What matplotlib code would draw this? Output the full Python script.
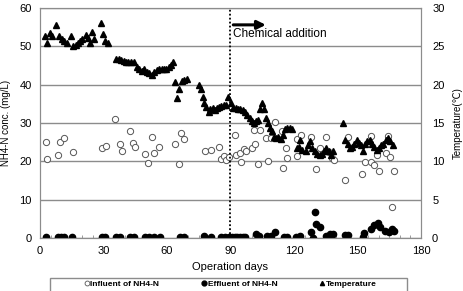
import matplotlib
matplotlib.use("Agg")
import matplotlib.pyplot as plt
from matplotlib.lines import Line2D
from matplotlib.patches import Rectangle

plt.rcParams['font.family'] = ['Liberation Sans', 'DejaVu Sans']

# temperature (right axis, degC)
temp_day = [2.4, 3.5, 4.7, 5.8, 7.6, 9, 10.3, 11.5, 12.6, 14.5, 15.8, 16.9, 17.8, 19, 20, 21.6, 22.6,
            23.7, 24.8, 25.7, 28.8, 29.7, 30.8, 32,
            36, 37.1, 38.4, 39.5, 40.7, 41.8, 43, 44.2, 45.8, 47, 48.2, 49.3, 50.5, 51.6, 52.7, 54,
            55.3, 56.4, 57.5, 58.4, 59.7, 60.8, 61.9, 62.8,
            64, 64.7, 65.5, 67.1, 68.2, 69.5, 75, 76.1, 76.9, 77.7, 78.6, 79.7, 80.5, 81.6, 82.6,
            83.7, 84.8, 85.7, 86.8, 88, 88.9, 90, 91.3, 92.4, 93.5, 94.7, 95.8, 96.8, 97.9, 99, 100,
            101, 102.2, 103.1, 103.9, 104.7, 105.8, 106.9, 107.9, 108.6, 109.4, 110.5, 111.6, 112.6,
            113.7, 114.8, 115.7, 116.8, 117.9, 118.9, 121.3, 122.4,
            122.8, 124, 125.5, 126.6, 127.6, 128.7, 129.8, 131, 132.2, 133.1, 134.2, 135.3, 136.3,
            137.4, 138.5, 143.2, 144.2, 145.3, 146.4, 147.3, 148.4, 149.6, 150.5, 151.6, 152.4,
            153.5, 154.7, 155.8, 156.8, 157.9, 159, 160, 161.1, 162.1, 163.4, 164.5, 165.5, 166.6]
temp_val = [26.3, 25.5, 26.7, 26.3, 27.8, 26.3, 25.9, 25.7, 25.5, 26.3, 25.1, 25.2, 25.4, 25.7, 25.9,
            26.5, 26.1, 25.4, 26.9, 25.9, 28.1, 26.6, 25.7, 25.5,
            23.3, 23.4, 23.2, 23.1, 23.0, 22.9, 22.9, 23.0, 22.3, 22.0, 21.8, 22.0, 21.6, 21.5, 21.3,
            21.7, 21.9, 22.0, 22.0, 22.0, 22.0, 22.3, 22.6, 23.0,
            20.3, 18.3, 19.4, 20.5, 20.6, 20.8, 20.0, 19.5, 18.4, 17.6, 17.1, 16.5, 16.8, 16.9, 16.7,
            17.0, 17.1, 17.2, 17.3, 17.3, 18.4, 17.6, 16.9, 16.9, 16.8, 16.8, 16.7, 16.4, 16.0, 15.6,
            15.2, 15.0, 15.3, 15.4, 16.8, 17.6, 16.8, 15.6, 15.0, 14.4, 13.9, 13.2, 13.0, 13.2,
            12.9, 13.4, 14.2, 14.3, 14.3, 14.2, 11.7, 11.9,
            12.8, 11.5, 11.3, 12.1, 12.6, 11.7, 11.3, 11.0, 10.8, 11.0, 11.3, 11.7, 11.3,
            10.8, 11.3, 15.0, 12.8, 12.3, 11.7, 11.9, 12.3, 12.8, 12.4, 12.1, 11.3,
            12.3, 12.6, 12.8, 12.3, 11.9, 11.5, 11.7, 12.1, 12.3, 12.8, 13.0, 12.6, 12.1]

# influent NH4-N (left axis, mg/L)
inf_day = [2.7, 3.2, 8.7, 9.5, 11.5, 15.5, 29.2, 31.3, 35.5, 37.6, 38.7, 42.6, 43.9, 45, 49.4, 50.8,
           52.9, 53.7, 56.4, 64, 65.8, 66.8, 67.9, 77.8, 81, 84.8, 85.7, 86.8, 88, 89.2, 92, 92.7,
           94.7, 95, 96.3, 97.1, 100, 101, 101.8, 103.1, 103.9, 106.9, 107.9, 108.9, 111, 114.2, 115,
           116, 116.9, 121.3, 121.6, 123.2, 128.2, 130.3, 132.2, 135, 136.6, 137.8, 138.9, 144.2,
           145.3, 152, 153.5, 156.3, 156.6, 157.9, 159.2, 160.3, 163.4, 164.5, 165.5, 166.3, 167.4]
inf_val = [25.1, 20.6, 21.7, 25.1, 26.2, 22.4, 23.4, 24.0, 31.0, 24.4, 22.7, 28.0, 24.7, 23.8, 21.8, 19.6,
           26.4, 22.3, 23.8, 24.4, 19.3, 27.5, 25.9, 22.7, 23.0, 23.8, 20.5, 21.4, 20.3, 21.1, 26.9, 21.7,
           22.1, 19.8, 23.1, 22.8, 23.4, 28.2, 24.4, 19.3, 28.2, 26.0, 20.2, 26.0, 30.3, 28.0, 18.2,
           23.4, 21.0, 21.4, 25.7, 26.9, 26.4, 17.9, 23.4, 26.3, 22.5, 20.8, 20.3, 15.1,
           26.4, 16.6, 19.9, 26.6, 19.7, 19.0, 21.7, 17.6, 22.1, 26.6, 21.2, 8.2, 17.6]

# effluent NH4-N (left axis, mg/L)
eff_day = [2.8, 8.7, 10, 11.4, 15.3, 29.2, 30.8, 36, 37.9, 42.3, 44.2, 49.4, 51.3, 53.7, 56.8, 66.3,
           67.9, 77.4, 80.8, 85.3, 87.3, 89.2, 90.8, 92, 93.2, 94.5, 95.8, 97, 102.2, 103.4, 107.4, 109,
           110.8, 115.3, 116.8, 120.8, 122.7, 127.9, 129.2, 129.9, 130.6, 132.3, 135, 137, 138.5,
           144.2, 145.3, 152.4, 153.2, 156.3, 157.9, 159.5, 160.6, 163.1, 164.7, 166.3, 167.4]
eff_val = [0.3, 0.3, 0.3, 0.3, 0.3, 0.3, 0.3, 0.3, 0.3, 0.2, 0.2, 0.3, 0.3, 0.3, 0.2, 0.3,
           0.3, 0.4, 0.3, 0.3, 0.3, 0.2, 0.2, 0.2, 0.2, 0.2, 0.3, 0.3, 1.0, 0.4, 0.4, 0.4,
           1.6, 0.3, 0.3, 0.3, 0.4, 1.6, 0.0, 6.9, 3.7, 3.0, 0.5, 1.0, 1.0,
           0.8, 0.8, 0.3, 1.4, 2.3, 3.4, 3.8, 3.0, 1.9, 1.6, 2.3, 1.9]

grey = '#8c8c8c'
fig = plt.figure(figsize=(4.63, 2.91), dpi=100)
ax = fig.add_axes([40 / 463, 1 - 238 / 291, 381 / 463, 230 / 291])
ax2 = ax.twinx()

ax.plot(inf_day, inf_val, 'o', mfc='white', mec='#555555', mew=0.7, ms=4.5, zorder=3)
ax.plot(eff_day, eff_val, 'o', color='black', ms=4.5, zorder=3)
ax2.plot(temp_day, temp_val, '^', color='black', ms=3.8, zorder=3)

ax.set_xlim(0, 180)
ax.set_ylim(0, 60)
ax2.set_ylim(0, 30)
ax.set_xticks(range(0, 181, 30))
ax.set_xticks(range(0, 181, 5), minor=True)
ax.set_yticks(range(0, 61, 10))
ax2.set_yticks(range(0, 31, 5))
ax.yaxis.grid(True, color=grey, lw=1)
ax.set_axisbelow(True)

ax.tick_params(axis='both', which='major', length=0, labelsize=8, pad=6)
ax.tick_params(axis='x', which='minor', length=2, direction='in', color=grey)
ax2.tick_params(axis='y', length=0, labelsize=8, pad=8)
for a in (ax, ax2):
    for s in a.spines.values():
        s.set_color(grey)

ax.set_xlabel('Operation days', fontsize=8, labelpad=4)
ax.set_ylabel('NH4-N conc. (mg/L)', fontsize=7, labelpad=6)
ax2.set_ylabel('Temperature(℃)', fontsize=7, labelpad=6)

ax.axvline(90, color='black', ls=(0, (1, 1.2)), lw=1.3, zorder=4)
ax.annotate('', xy=(108, 55.6), xytext=(90, 55.6),
            arrowprops=dict(arrowstyle='-|>,head_length=0.5,head_width=0.25', color='black', lw=2.2))
ax.text(91, 53.3, 'Chemical addition', fontsize=8.5, va='center', ha='left')

fig.patches.append(Rectangle((50 / 463, -0.05), 357 / 463, 0.05 + 1 - 278 / 291,
                             transform=fig.transFigure, fill=False, edgecolor=grey, lw=1))
handles = [Line2D([], [], ls='', marker='o', mfc='white', mec='#555555', mew=0.6, ms=3.5),
           Line2D([], [], ls='', marker='o', color='black', ms=3.5),
           Line2D([], [], ls='', marker='^', color='black', ms=3)]
fig.legend(handles, ['Influent of NH4-N', 'Effluent of NH4-N', 'Temperature'],
           loc='center', bbox_to_anchor=(230 / 463, 1 - 284 / 291), ncol=3, frameon=False,
           prop={'size': 6, 'weight': 'bold'}, handletextpad=0.0, handlelength=0.8,
           columnspacing=5.0, borderpad=0)

fig.savefig('out.png', dpi=100)
